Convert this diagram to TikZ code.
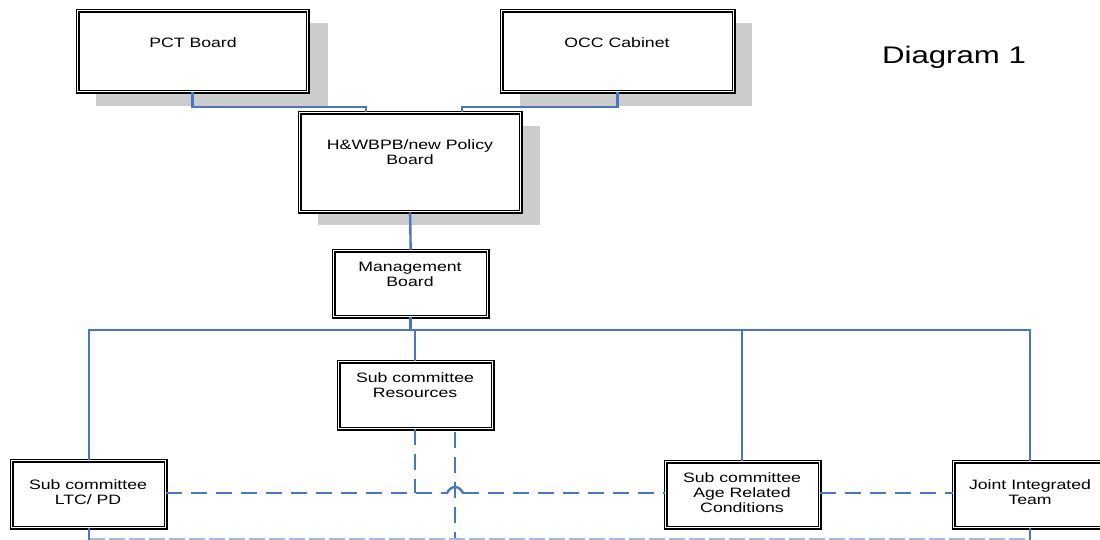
\documentclass[tikz,border=0pt]{standalone}
\usepackage{fontspec}
\setmainfont{Liberation Sans}[FakeStretch=1.3]
\usetikzlibrary{calc}
\definecolor{lineblue}{RGB}{72,117,196}
\definecolor{shadowgray}{RGB}{204,204,204}
\tikzset{
  orgbox/.style={draw=black, double=white, double distance=1.5pt, line width=1.3pt, fill=white, inner sep=0pt, anchor=north west},
  boxtext/.style={align=center, font=\fontsize{13.6}{15}\selectfont, inner sep=0pt},
  solidlink/.style={draw=lineblue, line width=2.4pt},
  dashlink/.style={draw=lineblue, line width=2.4pt, dash pattern=on 16pt off 9pt},
  faintlink/.style={draw=lineblue!50, line width=2.4pt, dash pattern=on 16pt off 4pt},
}
\begin{document}
\begin{tikzpicture}[x=1pt, y=-1pt]
\clip (0,0) rectangle (1100,540);
\fill[white] (0,0) rectangle (1100,540);
% shadows
\fill[shadowgray] (96,23) rectangle (328,106);
\fill[shadowgray] (520,23) rectangle (752,106);
\fill[shadowgray] (318,126) rectangle (540,225);
% boxes
\node[orgbox, minimum width=230pt, minimum height=81pt] (pct) at (77,10) {};
\node[orgbox, minimum width=232pt, minimum height=81pt] (occ) at (501,10) {};
\node[orgbox, minimum width=221pt, minimum height=99pt] (hwb) at (299,112) {};
\node[orgbox, minimum width=154pt, minimum height=66pt] (mgmt) at (333,250) {};
\node[orgbox, minimum width=154pt, minimum height=67pt] (res) at (338,361) {};
\node[orgbox, minimum width=154pt, minimum height=67pt] (ltc) at (11,460) {};
\node[orgbox, minimum width=154pt, minimum height=66pt] (age) at (665,461) {};
\node[orgbox, minimum width=154pt, minimum height=66pt] (jit) at (953,461) {};
% texts
\node[boxtext] (tpct) at (193,43) {PCT Board};
\node[boxtext] (tocc) at (617,43) {OCC Cabinet};
\node[boxtext] (thwb) at (410,152.5) {H\&WBPB/new Policy\\Board};
\node[boxtext] (tmgmt) at (410,274.5) {Management\\Board};
\node[boxtext] (tres) at (415,385.5) {Sub committee\\Resources};
\node[boxtext] (tltc) at (88,492.5) {Sub committee\\LTC/ PD};
\node[boxtext] (tage) at (742,492.5) {Sub committee\\Age Related\\Conditions};
\node[boxtext] (tjit) at (1030,492.5) {Joint Integrated\\Team};
\node[font=\fontsize{24}{28}\selectfont, inner sep=0pt] (title) at (954,57) {Diagram 1};
% coordinates
\coordinate (bus) at (0,330);
\coordinate (mid) at (0,493);
\coordinate (bottom) at (0,539.5);
\coordinate (hopx) at (455,0);
\coordinate (hopl) at (447,493);
\coordinate (hopr) at (463,493);
\coordinate (ltcx) at (89,0);
\coordinate (resx) at (415,0);
\coordinate (agex) at (742,0);
\coordinate (jitx) at (1030,0);
% top connectors
\draw[solidlink] (pct.south) -- ++(0,15) -| ($(hwb.north west)+(67,0)$);
\draw[solidlink] (occ.south) -- ++(0,15) -| ($(hwb.north west)+(163,0)$);
\draw[solidlink] (hwb.south) -- (mgmt.north);
\draw[solidlink] (mgmt.south) -- (mgmt.south |- bus);
\draw[solidlink] (ltc.north -| ltcx) -- (ltcx |- bus) -- (jitx |- bus) -- (jit.north -| jitx);
\draw[solidlink] (resx |- bus) -- (res.north -| resx);
\draw[solidlink] (agex |- bus) -- (age.north -| agex);
% dashed connectors
\draw[dashlink] (ltc.east |- mid) -- (hopl);
\draw[solidlink, line cap=round] (hopl) .. controls ($(hopl)+(4,-8)$) and ($(hopr)+(-4,-8)$) .. (hopr);
\draw[dashlink] (hopr) -- (age.west |- mid);
\draw[dashlink] (age.east |- mid) -- (jit.west |- mid);
\draw[dashlink] (res.south -| resx) -- (resx |- mid);
\draw[dashlink] (hopx |- res.south) ++(0,3) -- (hopx |- bottom);
% bottom
\draw[faintlink] (ltcx |- bottom) -- (jitx |- bottom);
\draw[solidlink] (ltc.south -| ltcx) -- (ltcx |- bottom);
\draw[solidlink] (jit.south -| jitx) -- ($(jitx |- bottom)+(0,2)$);
\end{tikzpicture}
\end{document}
